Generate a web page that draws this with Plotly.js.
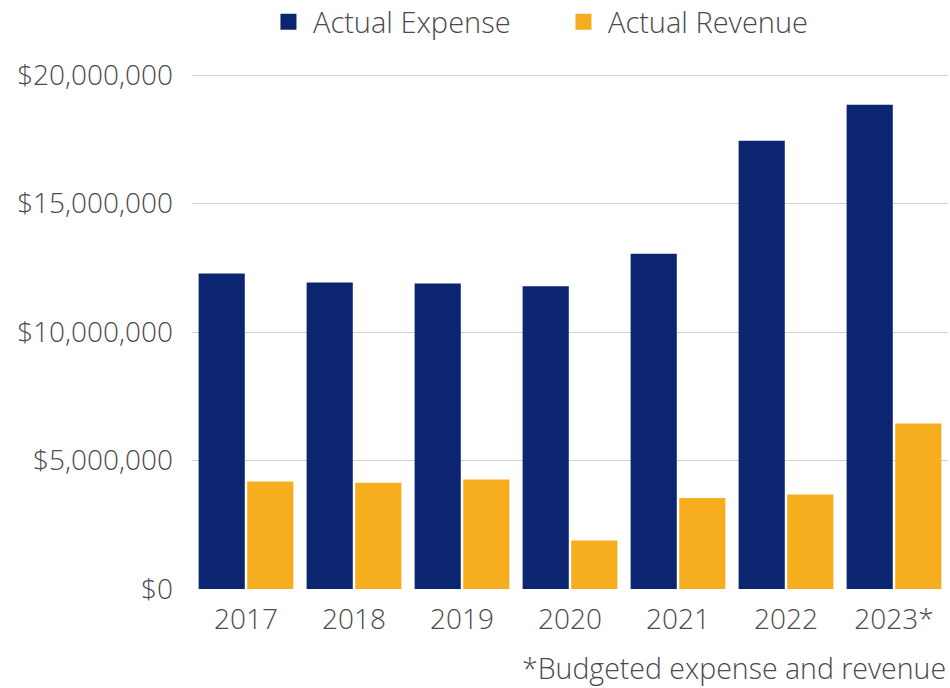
<!DOCTYPE html>
<html>
<head>
<meta charset="utf-8">
<script src="https://cdn.plot.ly/plotly-3.0.1.min.js"></script>
<style>html,body{margin:0;padding:0;background:#fff;}#chart{width:950px;height:688px;}</style>
</head>
<body>
<div id="chart"></div>
<script>
const years = ["2017", "2018", "2019", "2020", "2021", "2022", "2023*"];
const actualExpense = [12280000, 11930000, 11890000, 11780000, 13050000, 17450000, 18850000];
const actualRevenue = [4180000, 4140000, 4260000, 1890000, 3540000, 3680000, 6440000];
const yTickVals = [0, 5000000, 10000000, 15000000, 20000000];
const yTickText = ["$0", "$5,000,000", "$10,000,000", "$15,000,000", "$20,000,000"];
const seriesNames = ["Actual Expense", "Actual Revenue"];
const seriesColors = ["#0c2571", "#f6ae1e"];
const footnote = "*Budgeted expense and revenue";

const fontFam = "Open Sans, Noto Sans, sans-serif";
const textColor = "#4a4a4a";
const mkFont = (s) => ({family: fontFam, size: s || 28, color: textColor, weight: 300});

const traces = [
  {type: "bar", name: seriesNames[0], x: years, y: actualExpense, marker: {color: seriesColors[0]}, showlegend: false},
  {type: "bar", name: seriesNames[1], x: years, y: actualRevenue, marker: {color: seriesColors[1]}, showlegend: false}
];
// legend-only entries with larger square swatches
seriesNames.forEach((n, i) => traces.push({
  type: "scatter", mode: "markers", name: n, x: [null], y: [null],
  marker: {symbol: "square", size: 17, color: seriesColors[i]}, showlegend: true, hoverinfo: "skip"
}));

const layout = {
  width: 950, height: 688,
  margin: {l: 192, r: 2, t: 70, b: 99, pad: 0, autoexpand: false},
  paper_bgcolor: "#fff", plot_bgcolor: "#fff",
  font: mkFont(),
  barmode: "group", bargap: 0.1, bargroupgap: 0.05,
  showlegend: true,
  legend: {orientation: "h", x: 0.4854, xanchor: "center", y: 1.0925, yanchor: "middle",
           font: mkFont(29), itemwidth: 39, traceorder: "normal", entrywidth: 241, entrywidthmode: "pixels"},
  xaxis: {type: "category", showgrid: false, zeroline: false, showline: false, ticks: "",
          tickfont: mkFont(), ticklabelstandoff: 11},
  yaxis: {range: [0, 20200000], tickvals: yTickVals, ticktext: yTickText, showgrid: true,
          gridcolor: "#d2d2d2", gridwidth: 1, zeroline: false, showline: false, ticks: "",
          tickfont: mkFont(), ticklabelstandoff: 18},
  annotations: [{text: footnote, xref: "paper", yref: "paper", x: 1, y: -0.152,
                 xanchor: "right", yanchor: "middle", showarrow: false, font: mkFont(28.5)}]
};

Plotly.newPlot("chart", traces, layout, {displayModeBar: false, staticPlot: true});
</script>
</body>
</html>
